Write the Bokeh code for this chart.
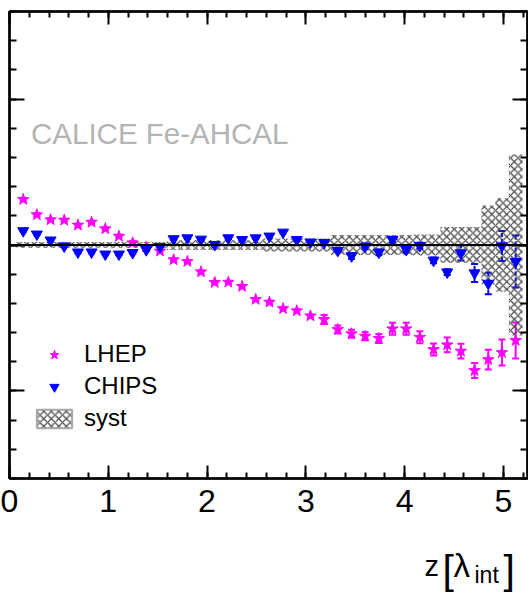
from bokeh.plotting import figure
from bokeh.layouts import column
from bokeh.models import (Range1d, SingleIntervalTicker, LinearAxis, Span, Whisker, TeeHead,
                          ColumnDataSource, Legend, LegendItem, Label)
from bokeh.embed import file_html
from bokeh.resources import INLINE

# ---------------- data ----------------
z = [0.139, 0.277, 0.416, 0.554, 0.693, 0.831, 0.970, 1.108, 1.247, 1.385,
     1.524, 1.662, 1.801, 1.939, 2.078, 2.216, 2.355, 2.493, 2.632, 2.770,
     2.909, 3.047, 3.186, 3.324, 3.463, 3.601, 3.740, 3.878, 4.017, 4.155,
     4.294, 4.432, 4.571, 4.709, 4.848, 4.986, 5.125]

lhep = [0.0312, 0.0207, 0.0173, 0.0170, 0.0136, 0.0156, 0.0111, 0.0060, 0.0015, -0.0015,
        -0.0042, -0.0101, -0.0113, -0.0184, -0.0257, -0.0255, -0.0284, -0.0373, -0.0392, -0.0436,
        -0.0451, -0.0486, -0.0510, -0.0579, -0.0608, -0.0625, -0.0640, -0.0574, -0.0574, -0.0632,
        -0.0716, -0.0684, -0.0727, -0.0860, -0.0785, -0.0737, -0.0654]
lhep_err = [0.001] * 22 + [0.0031, 0.0027, 0.0027, 0.0027, 0.0031, 0.0041, 0.0041, 0.0041,
                           0.0041, 0.0051, 0.0051, 0.0051, 0.0068, 0.0089, 0.0123]

chips = [0.0097, 0.0074, 0.0033, -0.0008, -0.0049, -0.0049, -0.0063, -0.0063, -0.0053, -0.0033,
         -0.0012, 0.0042, 0.0048, 0.0039, 0.0002, 0.0048, 0.0036, 0.0048, 0.0060, 0.0087,
         0.0036, 0.0019, 0.0016, -0.0038, -0.0075, -0.0009, -0.0050, 0.0036, -0.0032, -0.0005,
         -0.0105, -0.0186, -0.0055, -0.0192, -0.0264, -0.0007, -0.0113]
chips_err = [0.0007] * 24 + [0.002, 0.002, 0.002, 0.002, 0.002, 0.002, 0.002, 0.002,
                             0.0051, 0.0062, 0.0073, 0.0103, 0.0178]

syst = [0.002] * 11 + [0.0035] * 7 + [0.0045] * 5 + [0.0068] * 6 + [0.0072] * 2 + \
       [0.0124] * 3 + [0.027, 0.032, 0.062]

x_ticks_labels = ["0", "1", "2", "3", "4", "5"]
half_bin = (z[1] - z[0]) / 2

FONT = "Liberation Sans"
HATCH = dict(hatch_pattern="diagonal_cross", hatch_color="#444444", hatch_scale=7.5,
             hatch_weight=1.2)

# ---------------- figure ----------------
p = figure(width=528, height=545, x_range=Range1d(0, 5.245), y_range=Range1d(-0.16, 0.16),
           output_backend="svg", toolbar_location=None,
           min_border_left=9, min_border_right=1, min_border_top=11, min_border_bottom=67)
p.grid.visible = False
p.outline_line_color = "black"
p.outline_line_width = 2
p.background_fill_color = "white"
p.border_fill_color = "white"


def style_x(ax, labels):
    ax.ticker = SingleIntervalTicker(interval=1, num_minor_ticks=5)
    ax.axis_line_width = 2.5
    ax.major_tick_in = 13
    ax.major_tick_out = 0
    ax.minor_tick_in = 6
    ax.minor_tick_out = 0
    ax.major_tick_line_width = 2
    ax.minor_tick_line_width = 2
    if labels:
        ax.major_label_text_font = FONT
        ax.major_label_text_font_size = "32px"
        ax.major_label_text_color = "black"
        ax.major_label_standoff = 11
        ax.major_label_overrides = {i: t for i, t in enumerate(x_ticks_labels)}
    else:
        ax.major_label_text_color = None
        ax.major_label_text_font_size = "1px"
        ax.major_label_standoff = 0


def style_y(ax):
    ax.ticker = SingleIntervalTicker(interval=0.1, num_minor_ticks=5)
    ax.axis_line_width = 2.5
    ax.major_tick_in = 15
    ax.major_tick_out = 0
    ax.minor_tick_in = 7
    ax.minor_tick_out = 0
    ax.major_tick_line_width = 2
    ax.minor_tick_line_width = 2
    ax.major_label_text_color = None
    ax.major_label_text_font_size = "1px"
    ax.major_label_standoff = 0


style_x(p.xaxis[0], True)
style_y(p.yaxis[0])
top_ax = LinearAxis()
style_x(top_ax, False)
p.add_layout(top_ax, "above")
right_ax = LinearAxis()
style_y(right_ax)
p.add_layout(right_ax, "right")

# ---------------- syst band ----------------
band_src = ColumnDataSource(dict(
    left=[v - half_bin for v in z], right=[v + half_bin for v in z],
    top=list(syst), bottom=[-s for s in syst]))
p.quad(left="left", right="right", top="top", bottom="bottom", source=band_src,
       fill_color=None, line_color=None, **HATCH)

# legend-only proxy for syst (one undefined point, never visible)
nan = float("nan")
legend_syst = p.quad(left=[nan], right=[nan], top=[nan], bottom=[nan], fill_color=None,
                     line_color="#a8a8a8", line_width=2, **HATCH)

# ---------------- error bars ----------------
lhep_src = ColumnDataSource(dict(x=z, y=lhep,
                                 upper=[a + b for a, b in zip(lhep, lhep_err)],
                                 lower=[a - b for a, b in zip(lhep, lhep_err)]))
chips_src = ColumnDataSource(dict(x=z, y=chips,
                                  upper=[a + b for a, b in zip(chips, chips_err)],
                                  lower=[a - b for a, b in zip(chips, chips_err)]))

w1 = Whisker(base="x", upper="upper", lower="lower", source=lhep_src, level="underlay",
             line_color="#ff00ff", line_width=2,
             upper_head=TeeHead(size=7, line_color="#ff00ff", line_width=2),
             lower_head=TeeHead(size=7, line_color="#ff00ff", line_width=2))
w2 = Whisker(base="x", upper="upper", lower="lower", source=chips_src, level="underlay",
             line_color="#0000ff", line_width=2, line_dash="4 2",
             upper_head=TeeHead(size=7, line_color="#0000ff", line_width=2),
             lower_head=TeeHead(size=7, line_color="#0000ff", line_width=2))
p.add_layout(w1)
p.add_layout(w2)

# ---------------- markers ----------------
r_lhep = p.scatter("x", "y", source=lhep_src, marker="star", size=12,
                   fill_color="#ff00ff", line_color="#ff00ff")
r_chips = p.scatter("x", "y", source=chips_src, marker="inverted_triangle", size=11,
                    fill_color="#0000ff", line_color="#0000ff")

# zero line
p.add_layout(Span(location=0, dimension="width", line_color="black", line_width=2))

# ---------------- legend ----------------
legend = Legend(items=[LegendItem(label="LHEP", renderers=[r_lhep]),
                       LegendItem(label="CHIPS", renderers=[r_chips]),
                       LegendItem(label="syst", renderers=[legend_syst])],
                location=(23, 46), background_fill_alpha=0, border_line_color=None,
                label_text_font=FONT, label_text_font_size="24px", label_text_color="black",
                glyph_width=44, glyph_height=23, label_height=23, label_standoff=8,
                spacing=4, padding=0, margin=0)
p.add_layout(legend)

# ---------------- texts ----------------
p.add_layout(Label(x=21.5, y=344.7, x_units="screen", y_units="screen", text="CALICE Fe-AHCAL",
                   text_font=FONT, text_font_size="29.5px", text_color="#b4b4b4",
                   text_baseline="alphabetic"))

# ---------------- x-axis title strip ----------------
t = figure(width=528, height=48, x_range=Range1d(0, 528), y_range=Range1d(0, 48),
           output_backend="svg", toolbar_location=None, x_axis_type=None, y_axis_type=None,
           min_border=0)
t.grid.visible = False
t.outline_line_color = None
t.background_fill_color = "white"
t.border_fill_color = "white"

# positions are relative to the strip's frame, which starts 9 px from the left edge
title_parts = ["z", "[", "λ", "int", "]"]
title_x = [415, 433, 444, 465, 494]
title_y = [28, 24, 28, 19, 24]
title_sizes = ["29px", "41px", "33px", "23px", "41px"]
for txt, tx, ty, ts in zip(title_parts, title_x, title_y, title_sizes):
    t.add_layout(Label(x=tx, y=ty, x_units="screen", y_units="screen", text=txt,
                       text_font=FONT, text_font_size=ts, text_color="black",
                       text_baseline="alphabetic", text_align="left"))

layout = column(p, t, spacing=0)
open("out.html", "w").write(file_html(layout, INLINE))
